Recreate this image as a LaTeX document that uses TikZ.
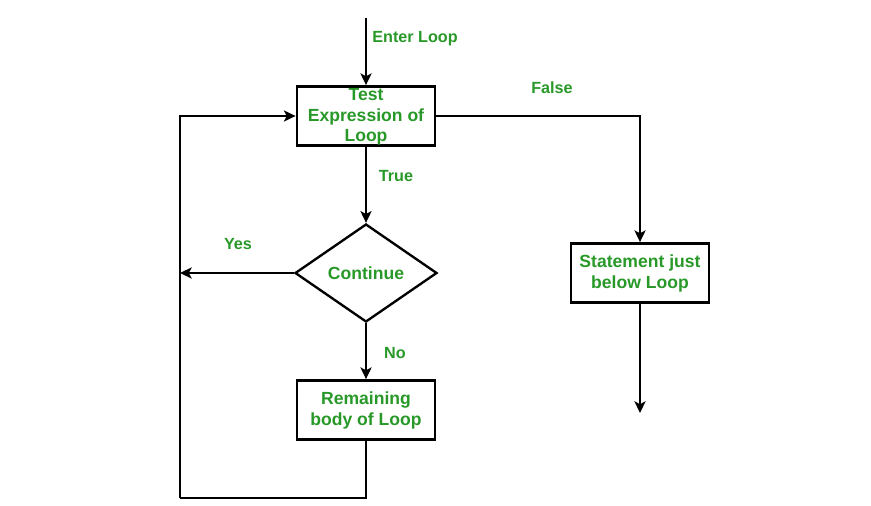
\documentclass[tikz,border=0pt]{standalone}
\usepackage{fontspec}
\setmainfont{Liberation Sans}
\usetikzlibrary{arrows.meta, positioning, shapes.geometric}

\definecolor{labelgreen}{RGB}{40,152,40}

\begin{document}
\begin{tikzpicture}[
    x=0.03cm, y=-0.03cm,
    every node/.style={font=\bfseries, text=labelgreen},
    box/.style={rectangle, draw=black, line width=2.4pt, minimum width=4.14cm, minimum height=1.77cm, inner sep=0pt, align=center, font=\bfseries\fontsize{15}{18}\selectfont},
    decision/.style={diamond, draw=black, line width=2pt, minimum width=4.26cm, minimum height=2.94cm, inner sep=0pt, font=\bfseries\fontsize{15}{18}\selectfont},
    arrow/.style={-{Stealth[length=10pt, width=9.5pt, inset=2.5pt]}, line width=1.7pt},
    line/.style={line width=1.7pt},
    label/.style={font=\bfseries\fontsize{13.8}{16}\selectfont}
]
\useasboundingbox (0,0) rectangle (871,506);

% ============ LOOP TEST ============
\coordinate (entry) at (366,18);
\node[box] (test) at (366,116) {};
\node (testtxt) at (366,117) [align=center, font=\bfseries\fontsize{15}{17.5}\selectfont] {Test\\Expression of\\Loop};
\draw[arrow] (entry) -- (test.north);
\node[label] (enterlbl) at (415,39) {Enter Loop};

% ============ DECISION ============
\node[decision] (cont) at (366,273) {Continue};
\draw[arrow] (test.south) -- (cont.north);
\node[label] (truelbl) at (396,176) {True};

% Yes branch back to the loop line
\coordinate (yes) at (180,273);
\draw[arrow] (cont.west) -- (yes);
\node[label] (yeslbl) at (238,244) {Yes};

% ============ LOOP BODY ============
\node[box] (body) at (366,410) {Remaining\\body of Loop};
\draw[arrow] (cont.south) -- (body.north);
\node[label] (nolbl) at (395,353) {No};

% Return path
\coordinate (back) at (180,498);
\draw[line] (body.south) |- (back);
\draw[arrow] (back) |- (test.west);

% ============ EXIT ============
\node[box] (after) at (640,273) {Statement just\\below Loop};
\draw[arrow] (test.east) -| (after.north);
\node[label] (falselbl) at (552,88) {False};

\coordinate (exit) at (640,413);
\draw[arrow] (after.south) -- (exit);

\end{tikzpicture}
\end{document}
